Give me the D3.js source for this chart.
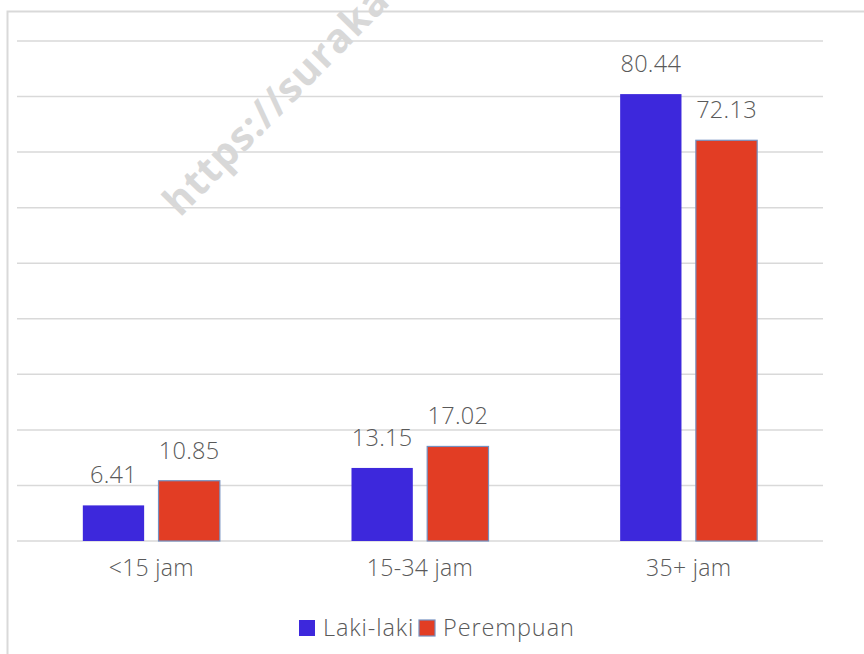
<!DOCTYPE html>
<html>
<head>
<meta charset="utf-8">
<script src="https://cdn.jsdelivr.net/npm/d3@7"></script>
<style>
  html, body { margin: 0; padding: 0; background: #fff; }
  text { font-family: "Open Sans", "Lato", sans-serif; font-weight: 300; fill: #595959; }
</style>
</head>
<body>
<script>
// Jam kerja per minggu, persentase pekerja
const categories = ["<15 jam", "15-34 jam", "35+ jam"];
const seriesNames = ["Laki-laki", "Perempuan"];
const lakiLaki = [6.41, 13.15, 80.44];
const perempuan = [10.85, 17.02, 72.13];
const gridTicks = [0, 10, 20, 30, 40, 50, 60, 70, 80, 90];
const colors = ["#3d28dc", "#e23d24"];

const W = 864, H = 654;
const margin = { left: 17, right: 41, top: 41, bottom: 113 };
const svg = d3.select("body").append("svg").attr("width", W).attr("height", H);

// outer frame
svg.append("path")
  .attr("d", `M7.5,${H} V11.5 H${W}`)
  .attr("fill", "none").attr("stroke", "#d9d9d9").attr("stroke-width", 2);

const x = d3.scaleBand().domain(categories).range([margin.left, W - margin.right]);
const y = d3.scaleLinear().domain([0, 90]).range([H - margin.bottom, margin.top]);
const inner = d3.scaleBand().domain(seriesNames).range([x.bandwidth() * 0.245, x.bandwidth() * 0.755]).paddingInner(0.19);

// watermark
svg.append("text")
  .attr("transform", "translate(180,218) rotate(-45.5)")
  .style("font-family", "'Open Sans', sans-serif")
  .style("font-weight", 700)
  .style("font-size", "40px")
  .style("letter-spacing", "1px")
  .style("fill", "#d8d8d8")
  .text("https://suraka");

// gridlines
svg.append("g").selectAll("line").data(gridTicks).join("line")
  .attr("x1", margin.left).attr("x2", W - margin.right)
  .attr("y1", d => y(d)).attr("y2", d => y(d))
  .attr("stroke", "#d9d9d9").attr("stroke-width", 1.5);

const rows = categories.map((c, i) => ({ c, vals: [lakiLaki[i], perempuan[i]] }));

const groups = svg.append("g").selectAll("g").data(rows).join("g")
  .attr("transform", d => `translate(${x(d.c)},0)`);

groups.selectAll("rect").data(d => d.vals.map((v, j) => ({ v, s: seriesNames[j], j }))).join("rect")
  .attr("x", d => inner(d.s))
  .attr("width", inner.bandwidth())
  .attr("y", d => y(d.v))
  .attr("height", d => y(0) - y(d.v))
  .attr("fill", d => colors[d.j])
  .attr("stroke", d => d.j === 1 ? "#7590c0" : "none")
  .attr("stroke-width", 1.2);

groups.selectAll("text.val").data(d => d.vals.map((v, j) => ({ v, s: seriesNames[j] }))).join("text")
  .attr("class", "val")
  .attr("x", d => inner(d.s) + inner.bandwidth() / 2)
  .attr("y", d => y(d.v) - 22)
  .attr("text-anchor", "middle")
  .style("font-size", "23.5px")
  .style("letter-spacing", "0.3px")
  .text(d => d.v.toFixed(2));

// category axis labels
const xAxis = d3.axisBottom(x).tickSize(0).tickPadding(19);
const gx = svg.append("g").attr("transform", `translate(0,${y(0)})`).call(xAxis);
gx.select(".domain").remove();
gx.selectAll("text")
  .style("font-size", "23px")
  .style("font-family", "'Open Sans', sans-serif")
  .style("letter-spacing", "0.3px")
  .attr("fill", "#595959");

// legend
const legend = svg.append("g").attr("transform", "translate(299,628)");
const lx = [0, 120];
seriesNames.forEach((s, j) => {
  const g = legend.append("g").attr("transform", `translate(${lx[j]},0)`);
  g.append("rect").attr("x", 0).attr("y", -8).attr("width", 16).attr("height", 16)
    .attr("fill", colors[j]).attr("stroke", j === 1 ? "#7590c0" : "none").attr("stroke-width", 1.2);
  g.append("text").attr("x", 24).attr("y", 0).attr("dy", "0.35em")
    .style("font-size", "23.5px")
    .style("letter-spacing", "0.9px")
    .text(s);
});
</script>
</body>
</html>
